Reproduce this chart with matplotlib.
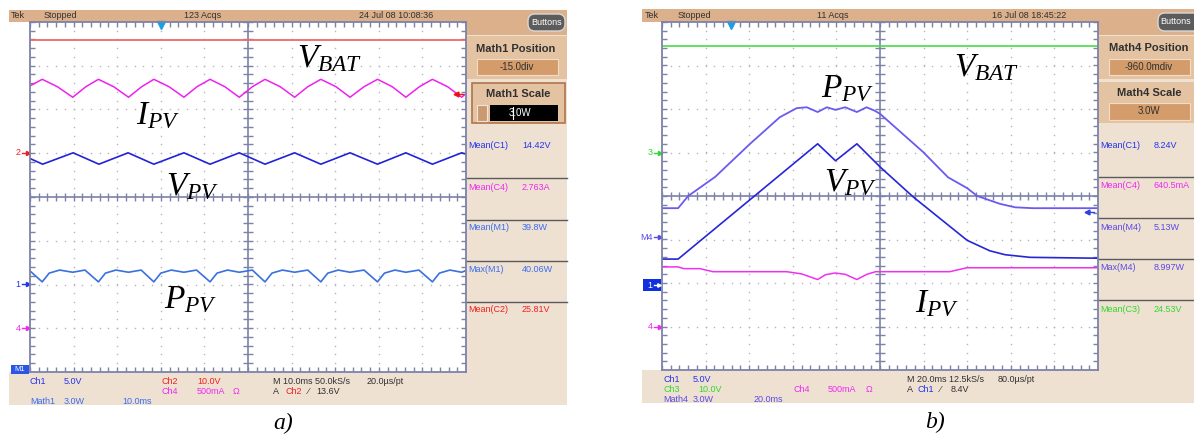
import numpy as np
import matplotlib
matplotlib.use('Agg')
import matplotlib.pyplot as plt
from matplotlib.patches import Rectangle, FancyBboxPatch

plt.rcParams['font.family'] = ['Liberation Sans', 'DejaVu Sans']
plt.rcParams['mathtext.fontset'] = 'custom'
plt.rcParams['mathtext.rm'] = 'Liberation Serif'
plt.rcParams['mathtext.it'] = 'Liberation Serif:italic'

W, H = 1194, 434

# ---------- a) trace vertices, in scope divisions (x 0..10, y -4..4) ----------
vbat_a_t = [0.0, 10.0]
vbat_a_v = [3.59, 3.59]

ipv_a_t = [0.00, 0.28, 0.63, 0.98, 1.28, 1.57, 1.92, 2.26, 2.56, 2.84, 3.19, 3.53,
           3.83, 4.13, 4.47, 4.80, 5.10, 5.39, 5.74, 6.07, 6.37, 6.67, 7.02, 7.34,
           7.66, 7.97, 8.31, 8.62, 8.93, 9.23, 9.58, 9.90, 10.0]
ipv_a_v = [2.54, 2.69, 2.52, 2.28, 2.52, 2.69, 2.52, 2.28, 2.52, 2.69, 2.52, 2.28,
           2.52, 2.69, 2.52, 2.28, 2.52, 2.69, 2.52, 2.28, 2.52, 2.69, 2.52, 2.28,
           2.52, 2.69, 2.52, 2.28, 2.52, 2.69, 2.52, 2.28, 2.36]

vpv_a_t = [0.00, 0.29, 0.99, 1.58, 2.25, 2.84, 3.53, 4.13, 4.80, 5.39, 6.07, 6.67,
           7.34, 7.97, 8.62, 9.23, 9.90, 10.0]
vpv_a_v = [0.88, 0.75, 1.01, 0.75, 1.01, 0.75, 1.01, 0.75, 1.01, 0.75, 1.01, 0.75,
           1.01, 0.75, 1.01, 0.75, 1.01, 0.98]

ppv_a_t = [0.00, 0.28, 0.44, 0.68, 0.98, 1.26, 1.57, 1.73, 1.97, 2.26, 2.55, 2.84,
           3.00, 3.24, 3.53, 3.82, 4.13, 4.29, 4.53, 4.80, 5.10, 5.39, 5.55, 5.79,
           6.07, 6.37, 6.67, 6.83, 7.07, 7.34, 7.66, 7.97, 8.13, 8.37, 8.62, 8.92,
           9.23, 9.39, 9.63, 9.90, 10.0]
ppv_a_v = [-1.69, -1.94, -1.74, -1.67, -1.72, -1.67, -1.94, -1.74, -1.67, -1.72, -1.67, -1.94,
           -1.74, -1.67, -1.72, -1.67, -1.94, -1.74, -1.67, -1.72, -1.67, -1.94, -1.74, -1.67,
           -1.72, -1.67, -1.94, -1.74, -1.67, -1.72, -1.67, -1.94, -1.74, -1.67, -1.72, -1.67,
           -1.94, -1.74, -1.67, -1.72, -1.68]

# ---------- b) trace vertices ----------
vbat_b_t = [0.0, 10.0]
vbat_b_v = [3.45, 3.45]

ppv_b_t = [0.00, 0.37, 0.60, 1.22, 2.02, 2.70, 3.09, 3.32, 3.57, 3.78, 3.98, 4.20,
           4.47, 4.69, 4.88, 5.00, 5.99, 6.56, 7.00, 7.23, 7.75, 8.10, 8.50, 10.0]
ppv_b_v = [-0.28, -0.28, 0.00, 0.44, 1.20, 1.81, 2.02, 2.04, 1.93, 2.04, 1.98, 2.04,
           1.93, 2.04, 1.96, 1.89, 1.01, 0.43, 0.18, 0.00, -0.18, -0.26, -0.28, -0.28]

vpv_b_t = [0.00, 0.37, 3.57, 3.98, 4.47, 5.00, 5.76, 7.00, 7.52, 7.87, 8.44, 10.0]
vpv_b_v = [-1.45, -1.45, 1.20, 0.81, 1.20, 0.67, -0.02, -1.02, -1.26, -1.35, -1.41, -1.43]

ipv_b_t = [0.00, 0.37, 0.50, 0.87, 1.17, 2.86, 3.20, 3.57, 3.75, 3.97, 4.20, 4.47,
           4.70, 4.90, 6.60, 6.99, 10.0]
ipv_b_v = [-1.63, -1.63, -1.67, -1.67, -1.74, -1.74, -1.79, -1.92, -1.81, -1.77, -1.80, -1.92,
           -1.80, -1.74, -1.74, -1.65, -1.65]

# ---------- scope readouts ----------
top_a = ['Tek', 'Stopped', '123 Acqs', '24 Jul 08 10:08:36']
top_b = ['Tek', 'Stopped', '11 Acqs', '16 Jul 08 18:45:22']
meas_a_names = ['Mean(C1)', 'Mean(C4)', 'Mean(M1)', 'Max(M1)', 'Mean(C2)']
meas_a_vals = ['14.42V', '2.763A', '39.8W', '40.06W', '25.81V']
meas_b_names = ['Mean(C1)', 'Mean(C4)', 'Mean(M4)', 'Max(M4)', 'Mean(C3)']
meas_b_vals = ['8.24V', '640.5mA', '5.13W', '8.997W', '24.53V']

C_CH1 = '#2232f0'
C_CH2 = '#f02020'
C_CH3 = '#30d830'
C_CH4 = '#f028f0'
C_M1 = '#3a6cf0'
C_M4 = '#5a4ae6'
TOP_TAN = '#dcb08a'
MID_TAN = '#e4c3a3'
LIGHT = '#efe1d2'
BOX_TAN = '#d49c6a'
GCOL = '#7c82a8'
DOT = '#b4b4c0'
TXT = '#303030'
FS = 6.5

fig = plt.figure(figsize=(W / 100, H / 100), dpi=100)
bg = fig.add_axes([0, 0, 1, 1], zorder=0)
bg.set_xlim(0, W)
bg.set_ylim(H, 0)
bg.axis('off')
fg = fig.add_axes([0, 0, 1, 1], zorder=5)
fg.set_xlim(0, W)
fg.set_ylim(H, 0)
fg.axis('off')
fg.patch.set_alpha(0)


def rect(x0, y0, w, h, fc, ec='none', lw=0):
    bg.add_patch(Rectangle((x0, y0), w, h, facecolor=fc, edgecolor=ec, linewidth=lw))


def txt(x, y, s, color=TXT, size=FS, ha='left', **kw):
    bg.text(x, y, s, color=color, fontsize=size, ha=ha, va='center', **kw)


def graticule(left, top, w, h):
    ax = fig.add_axes([left / W, 1 - (top + h) / H, w / W, h / H], zorder=2)
    ax.set_xlim(0, 10)
    ax.set_ylim(-4, 4)
    ax.set_xticks([])
    ax.set_yticks([])
    for s in ax.spines.values():
        s.set_color(GCOL)
        s.set_linewidth(1.3)
    mx = np.arange(0, 10.01, 0.2)
    my = np.arange(-4, 4.01, 0.2)
    for gx in [1, 2, 3, 4, 6, 7, 8, 9]:
        ax.plot(np.full(len(my), gx), my, ls='none', marker='s', ms=1.0, mew=0, color=DOT)
    for gy in [-3, -2, -1, 1, 2, 3]:
        ax.plot(mx, np.full(len(mx), gy), ls='none', marker='s', ms=1.0, mew=0, color=DOT)
    ax.axhline(0, color=GCOL, lw=1.2)
    ax.axvline(5, color=GCOL, lw=1.2)
    ax.vlines(mx, -0.1, 0.1, color=GCOL, lw=1)
    ax.hlines(my, 4.88, 5.12, color=GCOL, lw=1)
    ax.vlines(mx, 3.88, 4, color=GCOL, lw=1)
    ax.vlines(mx, -4, -3.88, color=GCOL, lw=1)
    ax.hlines(my, 0, 0.12, color=GCOL, lw=1)
    ax.hlines(my, 9.88, 10, color=GCOL, lw=1)
    return ax


def marker(ax, y, label, color):
    ax.plot([-0.19, -0.05], [y, y], color=color, lw=1, clip_on=False)
    ax.plot([-0.05], [y], marker='>', ms=3, color=color, clip_on=False)
    ax.text(-0.22, y, label, color=color, fontsize=FS, ha='right', va='center')


# ================= panel a =================
rect(9, 10, 558, 12, TOP_TAN)
rect(466, 22, 101, 383, LIGHT)
rect(466, 22, 101, 13, TOP_TAN)
rect(466, 36, 101, 43, MID_TAN)
rect(472, 83, 93, 40, MID_TAN, ec='#b07448', lw=1.2)
rect(477, 59, 81, 16, BOX_TAN, ec='#f2dcc6', lw=0.8)
rect(477, 105, 10, 16, '#c99a72', ec='#f4e4d4', lw=0.8)
rect(490, 105, 68, 16, 'black')
rect(9, 372, 558, 33, LIGHT)
for xx, s in zip([11, 44, 184, 359], top_a):
    txt(xx, 16, s)
bg.add_patch(FancyBboxPatch((528, 14), 37, 17, boxstyle='round,pad=0,rounding_size=7',
                            fc='#5c5c5c', ec='#d8d8d8', lw=1))
txt(546.5, 22.5, 'Buttons', color='white', ha='center')
txt(516, 49, 'Math1 Position', size=8, ha='center', weight='bold')
txt(517, 67, '-15.0div', ha='center', size=7)
txt(518, 94, 'Math1 Scale', size=8, ha='center', weight='bold')
txt(520, 113, '3.0W', color='white', ha='center', size=7)
bg.plot([513, 513], [107, 119], color='white', lw=0.8)
meas_cols_a = [C_CH1, C_CH4, C_M1, C_M1, C_CH2]
for i, (n, v, c) in enumerate(zip(meas_a_names, meas_a_vals, meas_cols_a)):
    yy = 146 + 41 * i
    txt(468, yy, n, color=c)
    txt(522, yy, v, color=c)
for yy in [178, 220, 261, 302]:
    bg.plot([466, 567], [yy, yy], color='#5a5a5a', lw=1)

txt(30, 381, 'Ch1', C_CH1)
txt(64, 381, '5.0V', C_CH1)
txt(161, 381, 'Ch2', C_CH2)
txt(197, 381, '10.0V', C_CH2)
txt(273, 381, 'M 10.0ms 50.0kS/s')
txt(367, 381, '20.0µs/pt')
txt(161, 391.5, 'Ch4', C_CH4)
txt(197, 391.5, '500mA', C_CH4)
txt(233, 391.5, 'Ω', C_CH4)
txt(273, 391.5, 'A')
txt(285, 391.5, 'Ch2', C_CH2)
txt(308, 391.5, '⁄')
txt(316, 391.5, '13.6V')
txt(30, 402, 'Math1', C_M1)
txt(64, 402, '3.0W', C_M1)
txt(122, 402, '10.0ms', C_M1)

ax_a = graticule(30, 22, 436, 350)
ax_a.plot(vbat_a_t, vbat_a_v, color='#f06868', lw=1.3)
ax_a.plot(ipv_a_t, ipv_a_v, color='#ee22ee', lw=1.1)
ax_a.plot(vpv_a_t, vpv_a_v, color='#2222d8', lw=1.2)
ax_a.plot(ppv_a_t, ppv_a_v, color='#3a70e0', lw=1.2)
marker(ax_a, 1.01, '2', C_CH2)
marker(ax_a, -1.99, '1', C_CH1)
marker(ax_a, -3.0, '4', C_CH4)
ax_a.plot([3.0], [3.93], marker='v', ms=6, color='#1a9ee6', clip_on=False)
ax_a.plot([9.76, 9.92], [2.36, 2.36], color='#f01010', lw=1)
ax_a.plot([9.76], [2.36], marker='<', ms=3.5, color='#f01010')
rect(11, 365, 18, 9, '#2a56e8')
txt(20, 369.5, 'M1', color='white', ha='center', size=5.5)

# ================= panel b =================
rect(642, 9, 552, 13, TOP_TAN)
rect(1098, 22, 96, 381, LIGHT)
rect(1098, 22, 96, 13, TOP_TAN)
rect(1098, 36, 96, 43, MID_TAN)
rect(1098, 82, 96, 41, MID_TAN)
rect(1109, 59, 81, 16, BOX_TAN, ec='#f2dcc6', lw=0.8)
rect(1109, 103, 81, 17, BOX_TAN, ec='#f2dcc6', lw=0.8)
rect(642, 370, 456, 33, LIGHT)
for xx, s in zip([645, 678, 817, 992], top_b):
    txt(xx, 15.5, s)
bg.add_patch(FancyBboxPatch((1158, 13), 44, 18, boxstyle='round,pad=0,rounding_size=7',
                            fc='#5c5c5c', ec='#d8d8d8', lw=1))
txt(1160, 22, 'Buttons', color='white')
txt(1149, 48, 'Math4 Position', size=8, ha='center', weight='bold')
txt(1149, 66.5, '-960.0mdiv', ha='center', size=7)
txt(1149, 93, 'Math4 Scale', size=8, ha='center', weight='bold')
txt(1149, 111.5, '3.0W', ha='center', size=7)
meas_cols_b = [C_CH1, C_CH4, C_M4, C_M4, C_CH3]
for i, (n, v, c) in enumerate(zip(meas_b_names, meas_b_vals, meas_cols_b)):
    yy = 145 + 41 * i
    txt(1100, yy, n, color=c)
    txt(1154, yy, v, color=c)
for yy in [177, 218, 259, 300]:
    bg.plot([1098, 1194], [yy, yy], color='#5a5a5a', lw=1)

txt(663, 380, 'Ch1', C_CH1)
txt(693, 380, '5.0V', C_CH1)
txt(663, 390, 'Ch3', C_CH3)
txt(698, 390, '10.0V', C_CH3)
txt(663, 400, 'Math4', C_M4)
txt(693, 400, '3.0W', C_M4)
txt(754, 400, '20.0ms', C_M4)
txt(793, 390, 'Ch4', C_CH4)
txt(828, 390, '500mA', C_CH4)
txt(866, 390, 'Ω', C_CH4)
txt(907, 380, 'M 20.0ms 12.5kS/s')
txt(998, 380, '80.0µs/pt')
txt(907, 390, 'A')
txt(917, 390, 'Ch1', C_CH1)
txt(940, 390, '⁄')
txt(951, 390, '8.4V')

ax_b = graticule(662, 22, 436, 348)
ax_b.plot(vbat_b_t, vbat_b_v, color='#44dd44', lw=1.2)
ax_b.plot(ppv_b_t, ppv_b_v, color='#6a5af0', lw=1.3)
ax_b.plot(vpv_b_t, vpv_b_v, color='#2626d8', lw=1.2)
ax_b.plot(ipv_b_t, ipv_b_v, color='#f030f0', lw=1.1)
marker(ax_b, 1.0, '3', C_CH3)
marker(ax_b, -0.95, 'M4', C_M4)
marker(ax_b, -3.01, '4', C_CH4)
rect(643, 279, 18, 12, '#1030e0')
fg.text(650, 285, '1', color='white', fontsize=FS, ha='center', va='center')
fg.plot([654, 659], [285, 285], color='white', lw=1)
fg.plot([659], [285], marker='>', ms=2.5, color='white')
ax_b.plot([1.58], [3.93], marker='v', ms=6, color='#1a9ee6', clip_on=False)
ax_b.plot([9.75, 9.9], [-0.36, -0.36], color='#3040e0', lw=1)
ax_b.plot([9.75], [-0.36], marker='<', ms=3.5, color='#3040e0')

# ================= big labels and captions =================
LBL = 24
fg.text(297, 67, r'$V_{BAT}$', fontsize=LBL, color='black', va='baseline')
fg.text(136, 124, r'$I_{PV}$', fontsize=LBL, color='black', va='baseline')
fg.text(166, 195, r'$V_{PV}$', fontsize=LBL, color='black', va='baseline')
fg.text(164, 308, r'$P_{PV}$', fontsize=LBL, color='black', va='baseline')
fg.text(821, 97, r'$P_{PV}$', fontsize=LBL, color='black', va='baseline')
fg.text(954, 76, r'$V_{BAT}$', fontsize=LBL, color='black', va='baseline')
fg.text(824, 191, r'$V_{PV}$', fontsize=LBL, color='black', va='baseline')
fg.text(915, 312, r'$I_{PV}$', fontsize=LBL, color='black', va='baseline')
fg.text(273, 429, 'a)', fontsize=17, style='italic', family='Liberation Serif', va='baseline')
fg.text(925, 428, 'b)', fontsize=17, style='italic', family='Liberation Serif', va='baseline')

fig.savefig('out.png', dpi=100)
